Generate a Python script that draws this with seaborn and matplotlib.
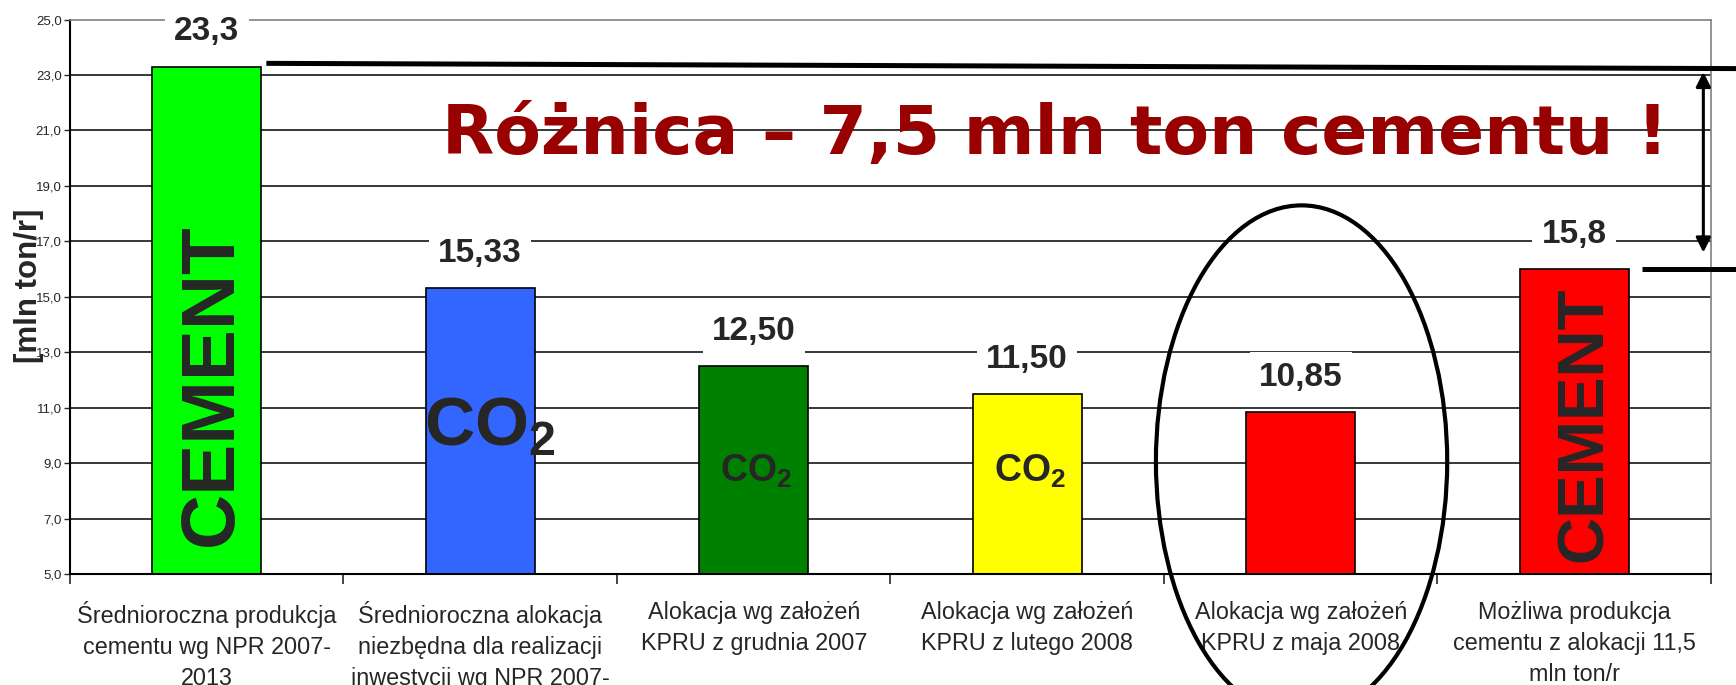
import numpy as np
import pandas as pd
import seaborn as sns
import matplotlib.pyplot as plt
from matplotlib.patches import Ellipse

sns.set_style("white")
plt.rcParams["font.family"] = ["Liberation Sans", "DejaVu Sans"]
plt.rcParams["mathtext.fontset"] = "custom"
plt.rcParams["mathtext.rm"] = "Liberation Sans"
plt.rcParams["mathtext.bf"] = "Liberation Sans:bold"

# %% data
categories = [
    "Średnioroczna produkcja\ncementu wg NPR 2007-\n2013",
    "Średnioroczna alokacja\nniezbędna dla realizacji\ninwestycji wg NPR 2007-\n2013",
    "Alokacja wg założeń\nKPRU z grudnia 2007",
    "Alokacja wg założeń\nKPRU z lutego 2008",
    "Alokacja wg założeń\nKPRU z maja 2008",
    "Możliwa produkcja\ncementu z alokacji 11,5\nmln ton/r",
]
heights = [23.3, 15.33, 12.50, 11.50, 10.85, 16.0]
value_labels = ["23,3", "15,33", "12,50", "11,50", "10,85", "15,8"]
bar_colors = ["#00FF00", "#3366FF", "#008000", "#FFFF00", "#FF0000", "#FF0000"]
yticks = [5, 7, 9, 11, 13, 15, 17, 19, 21, 23, 25]
title_text = "Różnica – 7,5 mln ton cementu !"

df = pd.DataFrame({"cat": categories, "val": heights})

# %% plot
fig = plt.figure(figsize=(17.36, 6.85), dpi=100)
ax = fig.add_axes([0.0403, 0.1616, 0.9453, 0.8099])
sns.barplot(ax=ax, data=df, x="cat", y="val", hue="cat", palette=bar_colors,
            legend=False, width=0.4, saturation=1, edgecolor="black", linewidth=1.2)

ax.set_xlim(-0.5, 5.5)
ax.set_ylim(5, 25)
ax.set_yticks(yticks)
ax.set_yticklabels([f"{t:.1f}".replace(".", ",") for t in yticks], fontsize=9.5)
ax.set_axisbelow(True)
ax.yaxis.grid(True, color="black", lw=1.1)
ax.get_ygridlines()[-1].set_visible(False)
ax.tick_params(axis="y", which="major", direction="out", length=4, width=1, pad=2, left=True)
ax.set_xticks(np.arange(-0.5, 6, 1), minor=True)
ax.tick_params(axis="x", which="minor", direction="out", length=7, width=1.2, bottom=True)
ax.tick_params(axis="x", which="major", length=0, pad=19, labelsize=16.8)
for lab in ax.get_xticklabels():
    lab.set_linespacing(1.45)
ax.set_xlabel("")
ax.set_ylabel("[mln ton/r]", fontsize=22.5, fontweight="bold")
ax.yaxis.set_label_coords(-0.016, 0.52)

for side in ["left", "bottom"]:
    ax.spines[side].set_color("black")
    ax.spines[side].set_linewidth(1.5)
for side in ["top", "right"]:
    ax.spines[side].set_color("#808080")
    ax.spines[side].set_linewidth(1.2)

# value labels above bars
for i, (h, lbl) in enumerate(zip(heights, value_labels)):
    ax.annotate(lbl, (i, h), xytext=(0, 25), textcoords="offset points",
                ha="center", va="center", fontsize=24, fontweight="bold",
                bbox=dict(boxstyle="square,pad=0.28", fc="white", ec="none"),
                zorder=6, annotation_clip=False)

# text inside bars
ax.text(0.02, 11.85, "CEMENT", rotation=90, ha="center", va="center",
        fontsize=55, fontweight="bold", zorder=5)
ax.text(5.04, 10.4, "CEMENT", rotation=90, ha="center", va="center",
        fontsize=47, fontweight="bold", zorder=5)
ax.text(1.035, 10.3, r"$\mathbf{CO_2}$", ha="center", va="center", fontsize=50, zorder=5)
ax.text(2.01, 8.72, r"$\mathbf{CO_2}$", ha="center", va="center", fontsize=27, zorder=5)
ax.text(3.01, 8.72, r"$\mathbf{CO_2}$", ha="center", va="center", fontsize=27, zorder=5)

# headline
ax.text(3.10, 20.16, title_text, ha="center", va="baseline", fontsize=49,
        fontweight="bold", color="#990000", family=["DejaVu Sans"], zorder=5)

# difference lines + arrow
ax.plot([0.218, 5.62], [23.42, 23.23], color="black", lw=3.6, clip_on=False,
        solid_capstyle="butt", zorder=6)
ax.plot([5.249, 5.62], [16.02, 16.02], color="black", lw=3.6, clip_on=False,
        solid_capstyle="butt", zorder=6)
ax.annotate("", xy=(5.472, 16.6), xytext=(5.472, 23.11),
            arrowprops=dict(arrowstyle="<|-|>", color="black", lw=2.2,
                            mutation_scale=22, shrinkA=0, shrinkB=0),
            annotation_clip=False, zorder=6)

# ellipse around the May 2008 allocation
ell = Ellipse((4.003, 9.07), width=1.065, height=18.46, fill=False,
              edgecolor="black", lw=3, clip_on=False, zorder=7)
ax.add_patch(ell)

fig.savefig("out.png", dpi=100)
